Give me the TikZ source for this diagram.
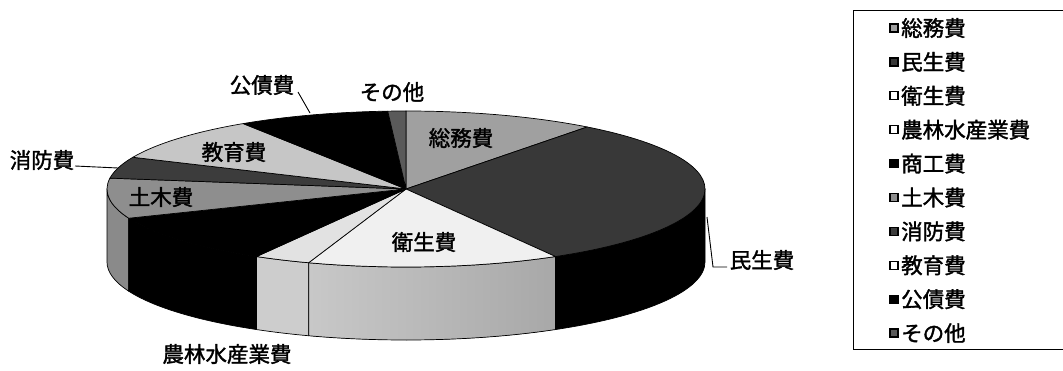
\documentclass[tikz,border=0pt]{standalone}
\usepackage{fontspec}
\newfontfamily\jp[FakeBold=1.6]{Noto Sans CJK JP}
\usetikzlibrary{calc}
\definecolor{cSoumu}{HTML}{A0A0A0}
\definecolor{cMinsei}{HTML}{383838}
\definecolor{cEisei}{HTML}{F0F0F0}
\definecolor{cEiseiWallA}{HTML}{C8C8C8}
\definecolor{cEiseiWallB}{HTML}{A8A8A8}
\definecolor{cNourin}{HTML}{E2E2E2}
\definecolor{cNourinWall}{HTML}{CDCDCD}
\definecolor{cDoboku}{HTML}{8E8E8E}
\definecolor{cDobokuWall}{HTML}{8A8A8A}
\definecolor{cShoubou}{HTML}{3C3C3C}
\definecolor{cKyouiku}{HTML}{C6C6C6}
\definecolor{cSonota}{HTML}{5A5A5A}
\def\cx{406}\def\cy{181}\def\rx{299}\def\ry{78}\def\dep{73}
% top slice: #1 start, #2 end angle
\newcommand\topslice[3]{%
  \filldraw[slice,fill=#3] (\cx,\cy) -- ({\cx+\rx*cos(#1)},{\cy+\ry*sin(#1)})
    arc[start angle=#1,end angle=#2,x radius=\rx pt,y radius=\ry pt] -- cycle;}
\newcommand\wallslice[3]{%
  \filldraw[slice,#3] ({\cx+\rx*cos(#1)},{\cy+\ry*sin(#1)})
    arc[start angle=#1,end angle=#2,x radius=\rx pt,y radius=\ry pt]
    -- ++(0,-\dep)
    arc[start angle=#2,end angle=#1,x radius=\rx pt,y radius=\ry pt] -- cycle;}
\tikzset{
  slice/.style={draw=black,line width=0.7pt,line join=round},
  lbl/.style={font=\jp\fontsize{21.5}{24}\selectfont,inner sep=0pt},
  leader/.style={draw=black,line width=0.9pt},
  legsq/.style={draw=black,line width=1.3pt,minimum size=8pt,inner sep=0pt},
  legbox/.style={draw=black,line width=0.8pt}
}
\begin{document}
\begin{tikzpicture}[x=1pt,y=1pt]
\fill[white] (0,0) rectangle (1063,370);
\useasboundingbox (0,0) rectangle (1063,370);
% side walls (front half)
\wallslice{180}{202}{fill=cDobokuWall}
\wallslice{202}{240}{fill=black}
\wallslice{240}{251}{fill=cNourinWall}
\wallslice{251}{300}{left color=cEiseiWallA,right color=cEiseiWallB}
\wallslice{300}{360}{fill=black}
% top faces
\topslice{52.7}{90}{cSoumu}
\topslice{-60}{52.7}{cMinsei}
\topslice{-109}{-60}{cEisei}
\topslice{-120}{-109}{cNourin}
\topslice{-158}{-120}{black}
\topslice{172}{202}{cDoboku}
\topslice{156}{172}{cShoubou}
\topslice{123}{156}{cKyouiku}
\topslice{93.5}{123}{black}
\topslice{90}{93.5}{cSonota}
% labels
\node[lbl] (kousai) at (262,285) {公債費};
\node[lbl] (sonota) at (392,278) {その他};
\node[lbl] (soumu) at (461,232) {総務費};
\node[lbl] (kyouiku) at (234,218) {教育費};
\node[lbl] (shoubou) at (42,210) {消防費};
\node[lbl] (doboku) at (161,173) {土木費};
\node[lbl] (eisei) at (424,128) {衛生費};
\node[lbl] (minsei) at (762,110) {民生費};
\node[lbl] (nourin) at (227,16) {農林水産業費};
% leaders
\coordinate (kousaiA) at (298,278);
\coordinate (kousaiB) at (310,257);
\draw[leader] (kousaiA) -- (kousaiB);
\coordinate (shoubouA) at (75,204);
\coordinate (shoubouB) at (118,202);
\draw[leader] (shoubouA) -- (shoubouB);
\coordinate (minseiA) at (707,153);
\coordinate (minseiB) at (713,103);
\coordinate (minseiC) at (727,103);
\draw[leader] (minseiA) -- (minseiB) -- (minseiC);
% legend
\draw[legbox] (1075,360) -- (853,360) -- (853,21) -- (1075,21);
\foreach \i/\c/\t in {0/cSoumu/総務費,1/cMinsei/民生費,2/white/衛生費,3/white/農林水産業費,4/black/商工費,5/cDoboku/土木費,6/cShoubou/消防費,7/white/教育費,8/black/公債費,9/cSonota/その他}{
  \node[legsq,fill=\c] (sq\i) at (894,{342-33.9*\i}) {};
  \node[lbl,anchor=west] (lg\i) at (901,{342-33.9*\i}) {\t};
}
\end{tikzpicture}
\end{document}
